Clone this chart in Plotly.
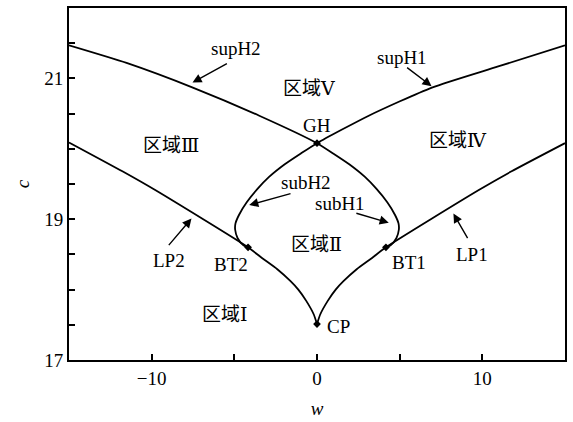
import plotly.graph_objects as go

# Hopf branch through GH: supercritical part on the left, subcritical lobe on the right
supH2_w = [-15.0, -11.52, -7.51, -3.49, 0.0]
supH2_c = [21.47, 21.22, 20.87, 20.47, 20.08]
subH1_w = [0.0, 1.0, 1.95, 2.9, 3.6, 4.25, 4.72, 4.93, 4.95, 4.8, 4.45, 4.17]
subH1_c = [20.08, 19.93, 19.78, 19.60, 19.43, 19.24, 19.06, 18.94, 18.85, 18.73, 18.63, 18.60]

# Mirror branch: supercritical part on the right, subcritical lobe on the left
supH1_w = [0.0, 3.13, 6.95, 10.96, 15.0]
supH1_c = [20.08, 20.47, 20.87, 21.17, 21.47]
subH2_w = [0.0, -1.0, -1.95, -2.9, -3.6, -4.25, -4.72, -4.93, -4.95, -4.8, -4.45, -4.17]
subH2_c = [20.08, 19.93, 19.78, 19.60, 19.43, 19.24, 19.06, 18.94, 18.85, 18.73, 18.63, 18.60]

# Limit-point (fold) curves meeting at the cusp CP
LP2_w = [-15.0, -11.77, -9.76, -4.17, -3.33, -2.4, -1.6, -1.13, -0.65, -0.2, 0.0]
LP2_c = [20.09, 19.68, 19.41, 18.60, 18.45, 18.29, 18.12, 18.00, 17.84, 17.65, 17.51]
LP1_w = [0.0, 0.2, 0.65, 1.13, 1.6, 2.4, 3.33, 4.17, 9.76, 11.77, 15.0]
LP1_c = [17.51, 17.65, 17.84, 18.00, 18.12, 18.29, 18.45, 18.60, 19.41, 19.68, 20.08]

# Codimension-two points
pt_names = ["GH", "BT1", "BT2", "CP"]
pt_w = [0.0, 4.17, -4.17, 0.0]
pt_c = [20.08, 18.60, 18.60, 17.51]

# Region labels
region_text = ["区域Ⅰ", "区域Ⅱ", "区域Ⅲ", "区域Ⅳ", "区域Ⅴ"]
region_w = [-5.54, -0.06, -8.86, 8.55, -0.5]
region_c = [17.64, 18.64, 20.05, 20.12, 20.85]

# Curve labels: text position, arrow tail, arrow tip
curve_lbl = ["supH2", "supH1", "subH2", "subH1", "LP2", "LP1"]
lbl_w = [-4.88, 5.12, -0.66, 1.39, -8.98, 9.40]
lbl_c = [21.43, 21.29, 19.52, 19.23, 18.41, 18.50]
tail_w = [-5.36, 5.36, -1.51, 2.29, -9.04, 9.16]
tail_c = [21.22, 21.17, 19.37, 19.09, 18.61, 18.71]
tip_w = [-7.53, 6.93, -4.10, 4.34, -7.59, 8.25]
tip_c = [20.94, 20.89, 19.20, 18.95, 19.01, 19.08]

# Point label positions
pt_lbl_w = [0.0, 5.54, -5.18, 1.27]
pt_lbl_c = [20.33, 18.38, 18.35, 17.47]

SERIF = "Liberation Serif, DejaVu Serif, Noto Sans CJK SC, serif"
FS = 19

fig = go.Figure()
line = dict(color="black", width=1.8, shape="spline", smoothing=0.6)

fig.add_trace(go.Scatter(x=supH2_w + subH1_w[1:], y=supH2_c + subH1_c[1:],
                         mode="lines", line=line, showlegend=False))
fig.add_trace(go.Scatter(x=supH1_w[::-1] + subH2_w[1:], y=supH1_c[::-1] + subH2_c[1:],
                         mode="lines", line=line, showlegend=False))
fig.add_trace(go.Scatter(x=LP2_w, y=LP2_c, mode="lines", line=line, showlegend=False))
fig.add_trace(go.Scatter(x=LP1_w, y=LP1_c, mode="lines", line=line, showlegend=False))
fig.add_trace(go.Scatter(x=pt_w, y=pt_c, mode="markers",
                         marker=dict(color="black", size=6, symbol="diamond"),
                         showlegend=False))

for t, w, c in zip(region_text, region_w, region_c):
    fig.add_annotation(x=w, y=c, text=t, showarrow=False,
                       font=dict(family=SERIF, size=FS, color="black"))

for t, w, c in zip(pt_names, pt_lbl_w, pt_lbl_c):
    fig.add_annotation(x=w, y=c, text=t, showarrow=False,
                       font=dict(family=SERIF, size=FS, color="black"))

for t, lw, lc, aw, ac, bw, bc in zip(curve_lbl, lbl_w, lbl_c, tail_w, tail_c, tip_w, tip_c):
    fig.add_annotation(x=lw, y=lc, text=t, showarrow=False,
                       font=dict(family=SERIF, size=FS, color="black"))
    fig.add_annotation(x=bw, y=bc, ax=aw, ay=ac, xref="x", yref="y",
                       axref="x", ayref="y", text="", showarrow=True,
                       arrowhead=2, arrowsize=1.3, arrowwidth=1.4,
                       arrowcolor="black", standoff=0, startstandoff=0)

axis_common = dict(showline=True, linecolor="black", linewidth=2, mirror=True,
                   ticks="inside", ticklen=6, tickwidth=1.5, tickcolor="black",
                   showgrid=False, zeroline=False,
                   tickfont=dict(family=SERIF, size=FS, color="black"))

fig.update_xaxes(range=[-15, 15], tickmode="array", tickvals=[-10, 0, 10],
                 ticktext=["−10", "0", "10"],
                 minor=dict(ticks="inside", ticklen=6, tickwidth=1.5, tickcolor="black",
                            tickmode="array", tickvals=[-5, 5]),
                 title=dict(text="<i>w</i>", font=dict(family=SERIF, size=FS, color="black"),
                            standoff=14),
                 **axis_common)
fig.update_yaxes(range=[17, 22], tickmode="array", tickvals=[17, 19, 21],
                 minor=dict(ticks="inside", ticklen=6, tickwidth=1.5, tickcolor="black",
                            tickmode="array",
                            tickvals=[17.5, 18, 18.5, 19.5, 20, 20.5, 21.5]),
                 title=dict(text="<i>c</i>", font=dict(family=SERIF, size=FS, color="black"),
                            standoff=10),
                 **axis_common)

fig.update_layout(width=573, height=422, margin=dict(l=69, r=6, t=6, b=56),
                  plot_bgcolor="white", paper_bgcolor="white")

fig.write_html("out.html")
